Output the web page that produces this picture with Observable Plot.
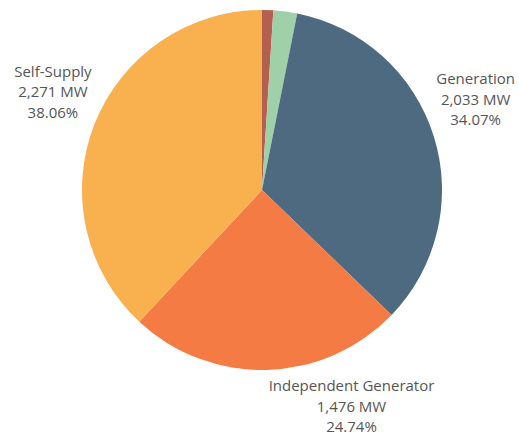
<!DOCTYPE html>
<html>
<head>
<meta charset="utf-8">
<script src="https://cdn.jsdelivr.net/npm/d3@7"></script>
<script src="https://cdn.jsdelivr.net/npm/@observablehq/plot@0.6"></script>
<style>
  html, body { margin: 0; padding: 0; background: #fff; }
</style>
</head>
<body>
<div id="chart"></div>
<script>
// Data (clockwise from 12 o'clock)
const categories = ["Other A", "Other B", "Generation", "Independent Generator", "Self-Supply"];
const megawatts = [60, 127, 2033, 1476, 2271];
const percents = ["1.01%", "2.13%", "34.07%", "24.74%", "38.06%"];
const labelled = [false, false, true, true, true];
const palette = ["#B3604F", "#9FD0A7", "#4E6A81", "#F47B44", "#F9B04F"];

// Layout
const W = 519, H = 436;
const CX = 262, CY = 190, R = 180;
const labelRadius = 1.29;
const labelAngleShift = {"Generation": -6, "Independent Generator": -21, "Self-Supply": 4};

const slices = categories.map((name, i) => ({name, mw: megawatts[i], pct: percents[i], labelled: labelled[i]}));
const arcs = d3.pie().sort(null).value(d => d.mw)(slices);

const color = Plot.scale({color: {type: "ordinal", domain: categories, range: palette}});

const labels = arcs.filter(a => a.data.labelled).map(a => {
  const mid = (a.startAngle + a.endAngle) / 2 + (labelAngleShift[a.data.name] || 0) * Math.PI / 180;
  return {
    x: labelRadius * Math.sin(mid),
    y: labelRadius * Math.cos(mid),
    text: `${a.data.name}\n${d3.format(",")(a.data.mw)} MW\n${a.data.pct}`
  };
});

function pieMark(index, scales) {
  const {x, y} = scales;
  const cx = x(0), cy = y(0), r = x(1) - x(0);
  const arc = d3.arc().innerRadius(0).outerRadius(r);
  const g = d3.create("svg:g").attr("transform", `translate(${cx},${cy})`);
  g.selectAll("path").data(arcs).join("path")
    .attr("d", arc)
    .attr("fill", d => color.apply(d.data.name));
  return g.node();
}

const chart = Plot.plot({
  width: W,
  height: H,
  margin: 0,
  x: {domain: [-CX / R, (W - CX) / R], axis: null},
  y: {domain: [-(H - CY) / R, CY / R], axis: null},
  style: {fontFamily: "'Open Sans', sans-serif", background: "#fff"},
  marks: [
    pieMark,
    Plot.text(labels, {
      x: "x", y: "y", text: "text",
      fontSize: 15, lineHeight: 1.37, fill: "#555",
      textAnchor: "middle", lineAnchor: "middle"
    })
  ]
});
document.getElementById("chart").appendChild(chart);
</script>
</body>
</html>
